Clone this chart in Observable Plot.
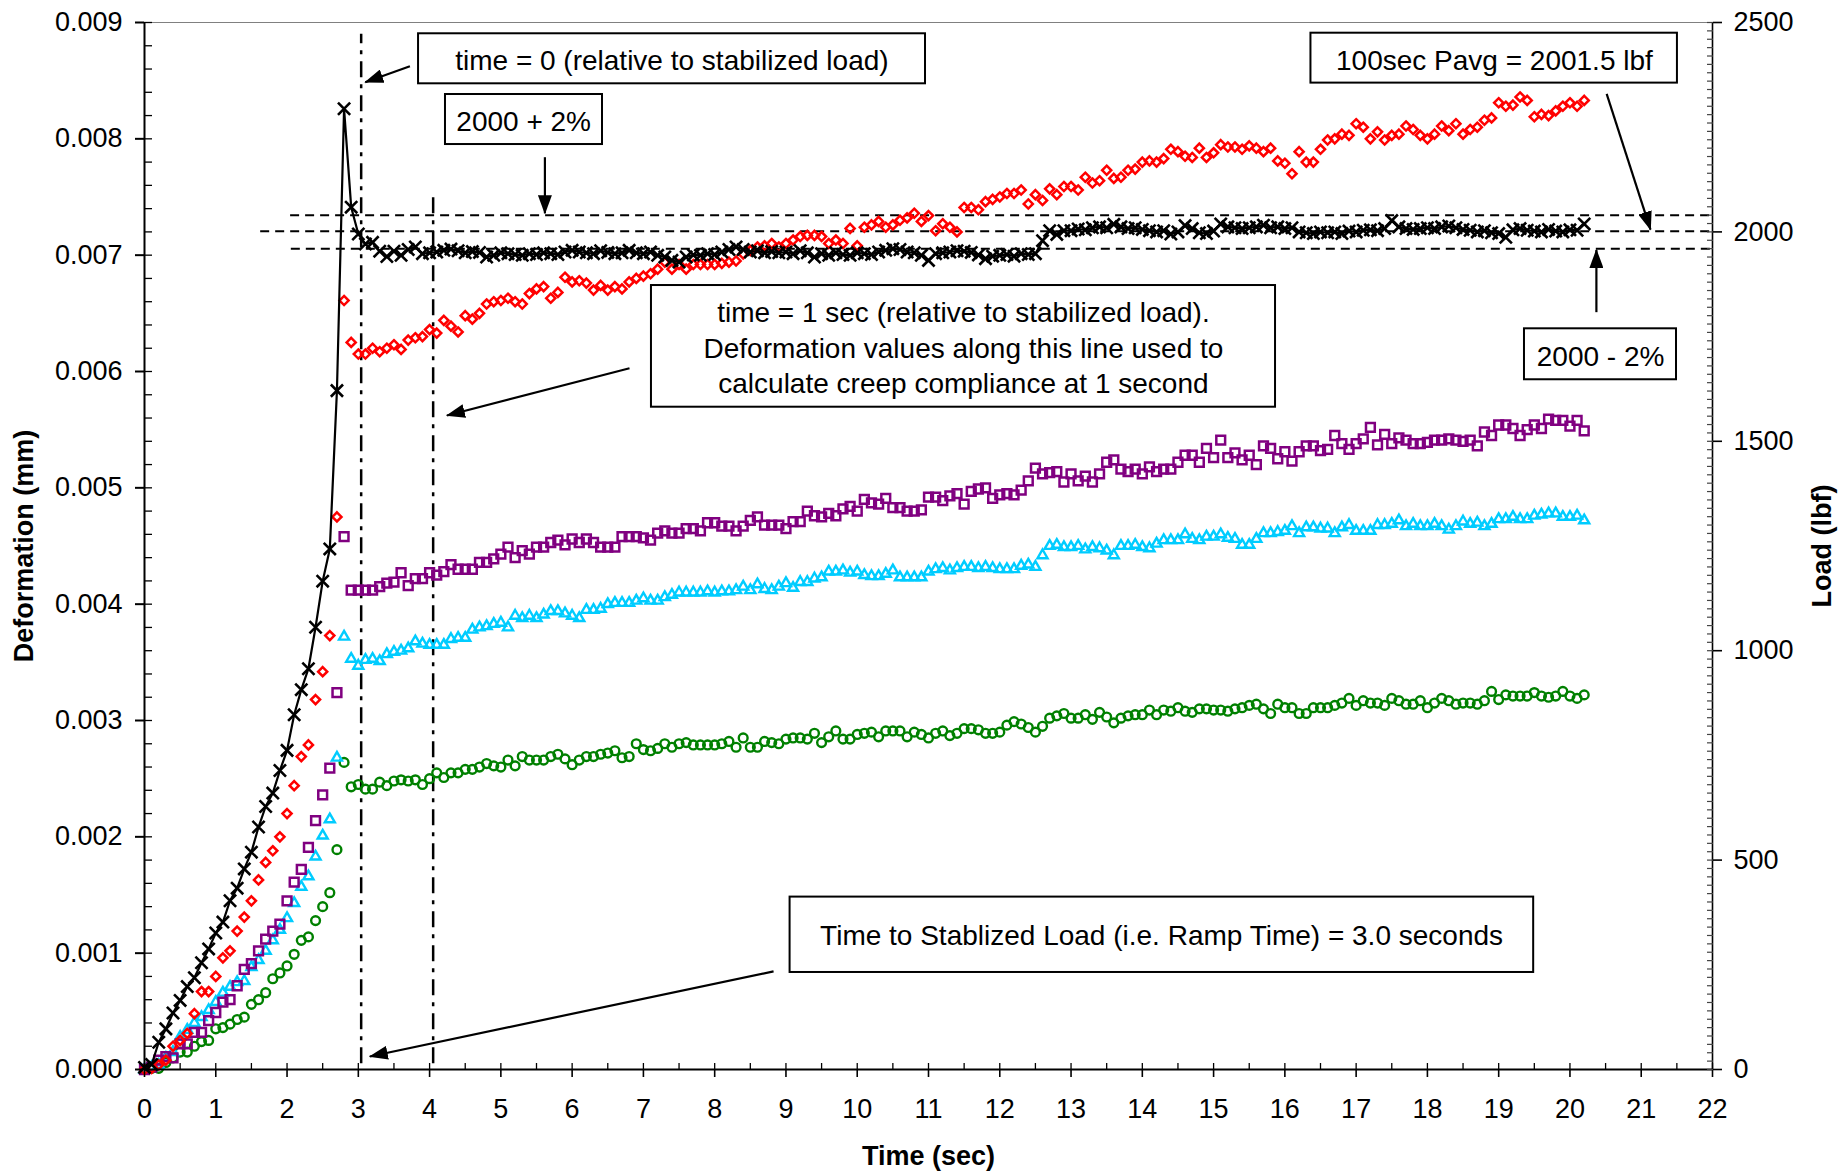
<!DOCTYPE html>
<html><head><meta charset="utf-8">
<script src="https://cdn.jsdelivr.net/npm/d3@7"></script>
<script src="https://cdn.jsdelivr.net/npm/@observablehq/plot@0.6"></script>
<style>html,body{margin:0;padding:0;background:#fff;} svg{display:block;}</style>
</head><body><div id="chart"></div>
<script>
// ---------- data (time in s, deformation in mm, load in lbf) ----------
const time = [
0.0,0.1,0.2,0.3,0.4,0.5,0.6,0.7,0.8,0.9,
1.0,1.1,1.2,1.3,1.4,1.5,1.6,1.7,1.8,1.9,
2.0,2.1,2.2,2.3,2.4,2.5,2.6,2.7,2.8,2.9,
3.0,3.1,3.2,3.3,3.4,3.5,3.6,3.7,3.8,3.9,
4.0,4.1,4.2,4.3,4.4,4.5,4.6,4.7,4.8,4.9,
5.0,5.1,5.2,5.3,5.4,5.5,5.6,5.7,5.8,5.9,
6.0,6.1,6.2,6.3,6.4,6.5,6.6,6.7,6.8,6.9,
7.0,7.1,7.2,7.3,7.4,7.5,7.6,7.7,7.8,7.9,
8.0,8.1,8.2,8.3,8.4,8.5,8.6,8.7,8.8,8.9,
9.0,9.1,9.2,9.3,9.4,9.5,9.6,9.7,9.8,9.9,
10.0,10.1,10.2,10.3,10.4,10.5,10.6,10.7,10.8,10.9,
11.0,11.1,11.2,11.3,11.4,11.5,11.6,11.7,11.8,11.9,
12.0,12.1,12.2,12.3,12.4,12.5,12.6,12.7,12.8,12.9,
13.0,13.1,13.2,13.3,13.4,13.5,13.6,13.7,13.8,13.9,
14.0,14.1,14.2,14.3,14.4,14.5,14.6,14.7,14.8,14.9,
15.0,15.1,15.2,15.3,15.4,15.5,15.6,15.7,15.8,15.9,
16.0,16.1,16.2,16.3,16.4,16.5,16.6,16.7,16.8,16.9,
17.0,17.1,17.2,17.3,17.4,17.5,17.6,17.7,17.8,17.9,
18.0,18.1,18.2,18.3,18.4,18.5,18.6,18.7,18.8,18.9,
19.0,19.1,19.2,19.3,19.4,19.5,19.6,19.7,19.8,19.9,
20.0,20.1,20.2];

const load = [
5,12,65,97,135,165,198,219,255,288,
326,352,403,433,479,519,579,628,660,714,
762,847,907,957,1056,1166,1243,1621,2294,2059,
1995,1971,1975,1954,1941,1954,1944,1958,1964,1948,
1950,1952,1956,1959,1955,1950,1953,1951,1940,1944,
1950,1948,1946,1944,1948,1946,1950,1948,1946,1952,
1956,1952,1950,1948,1955,1951,1948,1950,1956,1950,
1948,1952,1944,1940,1932,1928,1940,1945,1944,1948,
1946,1952,1958,1964,1958,1952,1955,1950,1953,1950,
1952,1948,1955,1950,1940,1948,1944,1950,1946,1944,
1950,1948,1946,1952,1956,1960,1958,1952,1950,1944,
1932,1948,1950,1952,1955,1954,1951,1945,1936,1942,
1944,1946,1942,1948,1946,1948,1979,2003,1994,2003,
2003,2007,2005,2010,2012,2010,2018,2012,2008,2010,
2006,2003,2000,2003,1995,2000,2015,2008,1998,1996,
2002,2019,2012,2010,2008,2010,2012,2016,2010,2012,
2008,2010,2000,1998,1996,2000,1998,2000,1996,2002,
2000,2004,2005,2003,2008,2027,2012,2008,2006,2008,
2010,2008,2012,2014,2010,2006,2004,2000,2003,1998,
1996,1987,2005,2008,2004,2002,2000,2006,2002,2000,
2005,2004,2019];

const defRed = [
0,0.00001,0.00004,0.00008,0.00020,0.00025,0.00031,0.00048,0.00067,0.00067,
0.00080,0.00096,0.00102,0.00119,0.00131,0.00145,0.00163,0.00178,0.00188,0.00200,
0.00220,0.00244,0.00269,0.00279,0.00318,0.00342,0.00373,0.00475,0.00661,0.00625,
0.00615,0.00615,0.00620,0.00617,0.00620,0.00623,0.00619,0.00627,0.00629,0.00630,
0.00636,0.00633,0.00644,0.00639,0.00634,0.00648,0.00645,0.00650,0.00658,0.00660,
0.00661,0.00663,0.00660,0.00658,0.00667,0.00671,0.00673,0.00663,0.00668,0.00681,
0.00677,0.00678,0.00676,0.00670,0.00674,0.00670,0.00673,0.00671,0.00677,0.00680,
0.00682,0.00684,0.00688,0.00694,0.00688,0.00692,0.00688,0.00692,0.00692,0.00692,
0.00692,0.00693,0.00694,0.00695,0.00701,0.00704,0.00707,0.00708,0.00710,0.00707,
0.00710,0.00713,0.00716,0.00717,0.00717,0.00716,0.00710,0.00713,0.00710,0.00723,
0.00708,0.00724,0.00726,0.00729,0.00724,0.00726,0.00730,0.00732,0.00736,0.00729,
0.00734,0.00721,0.00727,0.00724,0.00720,0.00741,0.00741,0.00739,0.00746,0.00748,
0.00750,0.00753,0.00753,0.00756,0.00744,0.00752,0.00747,0.00757,0.00752,0.00759,
0.00759,0.00756,0.00767,0.00762,0.00764,0.00773,0.00766,0.00767,0.00773,0.00774,
0.00780,0.00781,0.00780,0.00783,0.00791,0.00789,0.00785,0.00784,0.00792,0.00784,
0.00788,0.00795,0.00793,0.00793,0.00791,0.00794,0.00792,0.00789,0.00792,0.00781,
0.00779,0.00770,0.00789,0.00780,0.00780,0.00791,0.00799,0.00800,0.00804,0.00803,
0.00813,0.00810,0.00800,0.00806,0.00799,0.00803,0.00804,0.00811,0.00808,0.00803,
0.00800,0.00804,0.00811,0.00807,0.00813,0.00804,0.00808,0.00810,0.00816,0.00818,
0.00831,0.00828,0.00829,0.00836,0.00833,0.00819,0.00821,0.00820,0.00824,0.00828,
0.00831,0.00828,0.00833];

const defPurple = [
0,0.00002,0.00008,0.00011,0.00010,0.00022,0.00022,0.00032,0.00032,0.00042,
0.00049,0.00058,0.00060,0.00072,0.00086,0.00091,0.00102,0.00112,0.00119,0.00125,
0.00145,0.00161,0.00172,0.00191,0.00214,0.00236,0.00259,0.00324,0.00458,0.00412,
0.00412,0.00412,0.00412,0.00415,0.00418,0.00419,0.00427,0.00416,0.00422,0.00422,
0.00427,0.00425,0.00428,0.00434,0.00430,0.00430,0.00430,0.00436,0.00436,0.00439,
0.00443,0.00449,0.00440,0.00446,0.00443,0.00449,0.00449,0.00453,0.00455,0.00451,
0.00456,0.00453,0.00456,0.00453,0.00449,0.00449,0.00449,0.00458,0.00458,0.00458,
0.00457,0.00455,0.00461,0.00463,0.00461,0.00461,0.00465,0.00465,0.00463,0.00470,
0.00470,0.00467,0.00467,0.00463,0.00467,0.00472,0.00475,0.00468,0.00468,0.00468,
0.00465,0.00471,0.00471,0.00480,0.00476,0.00475,0.00478,0.00476,0.00482,0.00484,
0.00480,0.00490,0.00487,0.00486,0.00491,0.00483,0.00483,0.00480,0.00480,0.00481,
0.00492,0.00492,0.00489,0.00493,0.00495,0.00486,0.00497,0.00499,
0.00500,0.00491,0.00494,0.00495,0.00494,0.00498,0.00506,0.00517,0.00512,0.00513,
0.00514,0.00505,0.00512,0.00506,0.00510,0.00505,0.00512,0.00522,0.00524,0.00516,
0.00514,0.00516,0.00512,0.00518,0.00514,0.00516,0.00516,0.00522,0.00528,0.00528,
0.00522,0.00534,0.00526,0.00541,0.00526,0.00530,0.00524,0.00528,0.00520,0.00536,
0.00534,0.00525,0.00531,0.00523,0.00531,0.00536,0.00536,0.00532,0.00533,0.00545,
0.00538,0.00533,0.00538,0.00542,0.00552,0.00537,0.00546,0.00538,0.00543,0.00541,
0.00538,0.00538,0.00539,0.00541,0.00541,0.00542,0.00541,0.00540,0.00541,0.00536,
0.00548,0.00545,0.00554,0.00554,0.00551,0.00545,0.00550,0.00554,0.00551,0.00559,
0.00558,0.00558,0.00553,0.00558,0.00549];

const defCyan = [
0,0.00002,0.00004,0.00010,0.00015,0.00028,0.00034,0.00040,0.00045,0.00051,
0.00058,0.00066,0.00071,0.00075,0.00076,0.00088,0.00094,0.00102,0.00111,0.00120,
0.00130,0.00143,0.00157,0.00166,0.00183,0.00201,0.00215,0.00268,0.00372,0.00353,
0.00347,0.00352,0.00353,0.00351,0.00357,0.00359,0.00360,0.00362,0.00368,0.00366,
0.00365,0.00365,0.00365,0.00370,0.00371,0.00371,0.00378,0.00380,0.00381,0.00383,
0.00384,0.00380,0.00390,0.00388,0.00390,0.00388,0.00391,0.00394,0.00394,0.00392,
0.00390,0.00388,0.00395,0.00395,0.00396,0.00400,0.00401,0.00401,0.00401,0.00403,
0.00405,0.00403,0.00403,0.00406,0.00408,0.00410,0.00410,0.00410,0.00410,0.00411,
0.00410,0.00411,0.00411,0.00412,0.00415,0.00412,0.00417,0.00413,0.00412,0.00415,
0.00418,0.00414,0.00419,0.00419,0.00422,0.00423,0.00428,0.00428,0.00429,0.00427,
0.00428,0.00425,0.00424,0.00424,0.00426,0.00429,0.00423,0.00423,0.00423,0.00423,
0.00428,0.00430,0.00431,0.00429,0.00431,0.00432,0.00432,0.00431,
0.00432,0.00431,0.00430,0.00430,0.00430,0.00433,0.00434,0.00432,0.00442,0.00450,
0.00451,0.00449,0.00449,0.00450,0.00447,0.00449,0.00448,0.00446,0.00442,0.00450,
0.00450,0.00451,0.00449,0.00448,0.00452,0.00455,0.00455,0.00455,0.00460,0.00456,
0.00455,0.00458,0.00458,0.00460,0.00457,0.00456,0.00451,0.00451,0.00456,0.00461,
0.00461,0.00462,0.00463,0.00467,0.00461,0.00466,0.00466,0.00465,0.00465,0.00461,
0.00466,0.00468,0.00463,0.00463,0.00463,0.00468,0.00468,0.00469,0.00472,0.00467,
0.00469,0.00467,0.00467,0.00469,0.00467,0.00464,0.00467,0.00471,0.00469,0.00470,
0.00467,0.00469,0.00473,0.00473,0.00475,0.00473,0.00473,0.00476,0.00477,0.00478,
0.00478,0.00475,0.00475,0.00476,0.00472];

const defGreen = [
0,0.00001,0.00001,0.00006,0.00010,0.00015,0.00015,0.00020,0.00024,0.00025,
0.00035,0.00036,0.00039,0.00043,0.00045,0.00056,0.00060,0.00066,0.00078,0.00083,
0.00089,0.00099,0.00111,0.00114,0.00128,0.00140,0.00152,0.00189,0.00264,0.00243,
0.00245,0.00241,0.00241,0.00247,0.00244,0.00248,0.00249,0.00248,0.00249,0.00245,
0.00250,0.00255,0.00251,0.00255,0.00255,0.00258,0.00258,0.00260,0.00263,0.00261,
0.00260,0.00266,0.00261,0.00269,0.00266,0.00266,0.00266,0.00269,0.00271,0.00267,
0.00262,0.00266,0.00269,0.00269,0.00271,0.00272,0.00274,0.00268,0.00269,0.00280,
0.00275,0.00274,0.00276,0.00280,0.00277,0.00280,0.00281,0.00279,0.00279,0.00279,
0.00279,0.00280,0.00282,0.00277,0.00285,0.00277,0.00277,0.00282,0.00281,0.00280,
0.00284,0.00285,0.00285,0.00284,0.00289,0.00281,0.00286,0.00291,0.00284,0.00284,
0.00288,0.00289,0.00290,0.00286,0.00291,0.00291,0.00291,0.00286,0.00290,0.00288,
0.00285,0.00289,0.00291,0.00287,0.00289,0.00293,0.00293,0.00292,
0.00289,0.00289,0.00290,0.00296,0.00299,0.00297,0.00294,0.00290,0.00295,0.00302,
0.00304,0.00306,0.00302,0.00302,0.00305,0.00301,0.00307,0.00303,0.00298,0.00302,
0.00304,0.00305,0.00305,0.00309,0.00305,0.00309,0.00308,0.00311,0.00308,0.00307,
0.00310,0.00310,0.00309,0.00309,0.00308,0.00310,0.00311,0.00313,0.00314,0.00310,
0.00306,0.00314,0.00311,0.00311,0.00306,0.00306,0.00311,0.00311,0.00311,0.00313,
0.00315,0.00319,0.00313,0.00317,0.00315,0.00315,0.00313,0.00319,0.00317,0.00314,
0.00314,0.00317,0.00311,0.00315,0.00319,0.00317,0.00314,0.00315,0.00315,0.00314,
0.00317,0.00325,0.00318,0.00322,0.00321,0.00321,0.00321,0.00324,0.00321,0.00320,
0.00321,0.00325,0.00321,0.00319,0.00322];

// axis tick values
const defTicks = [0,0.001,0.002,0.003,0.004,0.005,0.006,0.007,0.008,0.009];
const timeTicks = [0,1,2,3,4,5,6,7,8,9,10,11,12,13,14,15,16,17,18,19,20,21,22];
const loadTicks = [0,500,1000,1500,2000,2500];

// reference lines (load band in lbf, start time in s) and time markers
const bands = [
  {name: "2000 + 2%", load: 2040, from: 2.05},
  {name: "Pavg", load: 2001.5, from: 1.63},
  {name: "2000 - 2%", load: 1960, from: 2.06}
];
const timeMarks = [{t: 3.04, top: 0.0089}, {t: 4.05, top: 0.0075}];

// annotation boxes (time, deformation units) and arrows
const notes = [
  {text: "time = 0 (relative to stabilized load)", x1: 3.845, x2: 10.958, y1: 0.008473, y2: 0.008903, tx: 7.40, ty: 0.00869},
  {text: "2000 + 2%", x1: 4.223, x2: 6.426, y1: 0.007951, y2: 0.008381, tx: 5.32, ty: 0.008166},
  {text: "100sec Pavg = 2001.5 lbf", x1: 16.366, x2: 21.508, y1: 0.008479, y2: 0.008908, tx: 18.94, ty: 0.008693},
  {text: "2000 - 2%", x1: 19.362, x2: 21.495, y1: 0.005929, y2: 0.006367, tx: 20.43, ty: 0.006148},
  {text: "time = 1 sec (relative to stabilized load).\nDeformation values along this line used to\ncalculate creep compliance at 1 second", x1: 7.113, x2: 15.869, y1: 0.005693, y2: 0.006739, tx: 11.49, ty: 0.006215},
  {text: "Time to Stablized Load (i.e. Ramp Time) = 3.0 seconds", x1: 9.058, x2: 19.491, y1: 0.000834, y2: 0.001482, tx: 14.27, ty: 0.001169}
];
const pointers = [
  {x1: 3.724, y1: 0.008624, x2: 3.097, y2: 0.008487},
  {x1: 5.618, y1: 0.007842, x2: 5.618, y2: 0.00736},
  {x1: 20.515, y1: 0.008387, x2: 21.13, y2: 0.00722},
  {x1: 20.371, y1: 0.00651, x2: 20.371, y2: 0.007045},
  {x1: 6.805, y1: 0.006028, x2: 4.243, y2: 0.005622},
  {x1: 8.826, y1: 0.000844, x2: 3.161, y2: 0.000112}
];

// ---------- build ----------
const loadMax = 2500, defMax = 0.009;
const toDef = L => L * defMax / loadMax;   // secondary (load) axis mapped onto deformation axis

const pts = arr => time.map((t, i) => ({t, v: arr[i]}));
const loadPts = pts(load).map(d => ({t: d.t, v: toDef(d.v)}));

const defMinor = d3.range(0, 46).map(i => i * 0.0002);
const timeHalf = d3.range(0, 45).map(i => i * 0.5);
const loadMinor = d3.range(0, 126).map(i => toDef(i * 20));

function arrowHead(color, context) {
  const ns = "http://www.w3.org/2000/svg";
  const doc = (context && context.document) || document;
  const m = doc.createElementNS(ns, "marker");
  m.setAttribute("viewBox", "-18 -7 19 14");
  m.setAttribute("markerWidth", "19");
  m.setAttribute("markerHeight", "14");
  m.setAttribute("markerUnits", "userSpaceOnUse");
  m.setAttribute("orient", "auto");
  m.setAttribute("refX", "0");
  m.setAttribute("refY", "0");
  const p = doc.createElementNS(ns, "path");
  p.setAttribute("d", "M1,0L-18,-7L-18,7Z");
  p.setAttribute("fill", color === "currentColor" ? "black" : color);
  p.setAttribute("stroke", "none");
  m.appendChild(p);
  return m;
}

const font = "'Liberation Sans', Arial, Helvetica, sans-serif";

const chart = Plot.plot({
  width: 1845,
  height: 1176,
  marginLeft: 144,
  marginRight: 133,
  marginTop: 22,
  marginBottom: 107,
  style: {fontFamily: font, fontSize: "27px", background: "white", color: "black", overflow: "visible"},
  x: {domain: [0, 22]},
  y: {domain: [0, defMax]},
  marks: [
    // frame
    Plot.ruleY([defMax], {stroke: "#808080", strokeWidth: 1}),
    // reference lines
    Plot.ruleY(bands, {y: d => toDef(d.load), x1: "from", x2: 22, stroke: "black", strokeWidth: 2, strokeDasharray: "9,6"}),
    Plot.ruleX(timeMarks, {x: "t", y1: 0.00005, y2: "top", stroke: "black", strokeWidth: 2.5, strokeDasharray: "16,7,4,7"}),
    // deformation series
    Plot.dot(pts(defGreen), {x: "t", y: "v", symbol: "circle", r: 4.4, stroke: "#008000", strokeWidth: 2.4, fill: "none"}),
    Plot.dot(pts(defCyan), {x: "t", y: "v", symbol: "triangle2", r: 4.8, stroke: "#00CCFF", strokeWidth: 2.4, fill: "none"}),
    Plot.dot(pts(defPurple), {x: "t", y: "v", symbol: "square2", r: 5.6, stroke: "#800080", strokeWidth: 2.5, fill: "none"}),
    Plot.dot(pts(defRed), {x: "t", y: "v", symbol: "diamond2", r: 4.1, stroke: "#FF0000", strokeWidth: 2.5, fill: "none"}),
    // load series
    Plot.line(loadPts, {x: "t", y: "v", stroke: "black", strokeWidth: 2.2}),
    Plot.dot(loadPts, {x: "t", y: "v", symbol: "times", r: 5.6, stroke: "black", strokeWidth: 2.6}),
    // annotation boxes
    Plot.rect(notes, {x1: "x1", x2: "x2", y1: "y1", y2: "y2", fill: "white", stroke: "black", strokeWidth: 2}),
    Plot.text(notes, {x: "tx", y: "ty", text: "text", fontSize: 28, lineHeight: 1.27, fill: "black"}),
    Plot.link(pointers, {x1: "x1", y1: "y1", x2: "x2", y2: "y2", stroke: "black", strokeWidth: 2.2, markerEnd: arrowHead}),
    // axes lines
    Plot.ruleX([0], {stroke: "black", strokeWidth: 2}),
    Plot.ruleX([22], {stroke: "black", strokeWidth: 1.6}),
    Plot.ruleY([0], {stroke: "black", strokeWidth: 2}),
    // left axis
    Plot.axisY({ticks: defTicks, tickSize: 9, tickPadding: 13, tickFormat: d3.format(".3f"), fontSize: 27, label: null, stroke: "black", strokeWidth: 2}),
    Plot.axisY({ticks: defMinor, tickSize: 8, insetLeft: 8, tickFormat: () => "", label: null, stroke: "black", strokeWidth: 1.3}),
    // bottom axis
    Plot.axisX({ticks: timeTicks, tickSize: 8, tickPadding: 21, fontSize: 27, label: null, stroke: "black", strokeWidth: 1.6}),
    Plot.axisX({ticks: timeHalf, tickSize: 6, insetBottom: 6, tickFormat: () => "", label: null, stroke: "black", strokeWidth: 1.3}),
    // right (load) axis
    Plot.axisY({anchor: "right", ticks: loadTicks.map(toDef), tickSize: 9, tickPadding: 12, tickFormat: d => String(Math.round(d * loadMax / defMax)), fontSize: 27, label: null, stroke: "black", strokeWidth: 1.6}),
    Plot.axisY({anchor: "right", ticks: loadMinor, tickSize: 6, insetRight: 6, tickFormat: () => "", label: null, stroke: "#444", strokeWidth: 1.2}),
    // axis titles
    Plot.text(["Deformation (mm)"], {text: d => d, frameAnchor: "left", textAnchor: "middle", dx: -120, rotate: -90, fontWeight: "bold", fontSize: 27, fill: "black"}),
    Plot.text(["Load (lbf)"], {text: d => d, frameAnchor: "right", textAnchor: "middle", dx: 110, rotate: -90, fontWeight: "bold", fontSize: 27, fill: "black"}),
    Plot.text(["Time (sec)"], {text: d => d, frameAnchor: "bottom", dy: 95, fontWeight: "bold", fontSize: 27, fill: "black"})
  ]
});
document.getElementById("chart").appendChild(chart);
</script>
</body></html>
